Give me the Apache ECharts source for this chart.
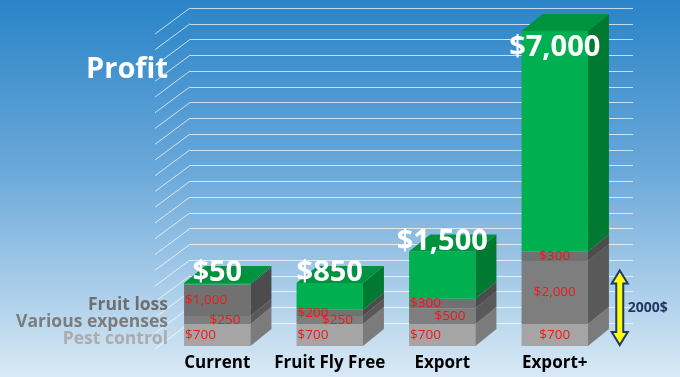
<!DOCTYPE html>
<html>
<head>
<meta charset="utf-8">
<script src="https://cdn.jsdelivr.net/npm/echarts@6/dist/echarts.min.js"></script>
<style>
  html, body { margin: 0; padding: 0; }
  #main { width: 680px; height: 377px; }
</style>
</head>
<body>
<div id="main"></div>
<script>
// values
const categories = ['Current', 'Fruit Fly Free', 'Export', 'Export+'];
const pestControl = [700, 700, 700, 700];
const variousExpenses = [250, 250, 500, 2000];
const fruitLoss = [1000, 200, 300, 300];
const profit = [50, 850, 1500, 7000];
const wallTicks = [0, 500, 1000, 1500, 2000, 2500, 3000, 3500, 4000, 4500, 5000,
  5500, 6000, 6500, 7000, 7500, 8000, 8500, 9000, 9500, 10000];
const legendNames = ['Fruit loss', 'Various expenses', 'Pest control'];
const arrowSpan = [0, 2400];
const arrowText = '2000$';

// fake 3d depth of the boxes
const DX = 21, DY = -17;
const segColors = [
  { front: '#a5a5a5', side: '#7b7b7b' },
  { front: '#7e7e7e', side: '#595959' },
  { front: '#717171', side: '#4c4c4c' },
  { front: '#00b050', side: '#007a33', top: '#00933e' }
];

function money(v) {
  return '$' + String(v).replace(/\B(?=(\d{3})+(?!\d))/g, ',');
}

function renderBar(params, api) {
  const i = api.value(0);
  const vals = [api.value(1), api.value(2), api.value(3), api.value(4)];
  const w = api.size([1, 0])[0] * 0.59;
  const cx = api.coord([i, 0])[0];
  const xl = cx - w / 2, xr = cx + w / 2;
  const shapes = [], labels = [];
  let base = 0;
  vals.forEach(function (v, k) {
    const y0 = api.coord([i, base])[1];
    const y1 = api.coord([i, base + v])[1];
    const c = segColors[k];
    shapes.push({ type: 'rect', shape: { x: xl, y: y1, width: w, height: y0 - y1 }, style: { fill: c.front } });
    shapes.push({
      type: 'polygon',
      shape: { points: [[xr, y1], [xr + DX, y1 + DY], [xr + DX, y0 + DY], [xr, y0]] },
      style: { fill: c.side }
    });
    if (k === 3) {
      shapes.push({
        type: 'polygon',
        shape: { points: [[xl, y1], [xr, y1], [xr + DX, y1 + DY], [xl + DX, y1 + DY]] },
        style: { fill: c.top }
      });
      const inside = (y0 - y1) > 100;
      labels.push({
        type: 'text', x: cx, y: inside ? y1 + 17 : y1 - 10,
        style: {
          text: money(v), fill: '#fff', font: 'bold 29px "Open Sans"',
          textAlign: 'center', textVerticalAlign: 'middle',
          shadowBlur: 4, shadowColor: 'rgba(0,0,0,0.55)', shadowOffsetX: 1, shadowOffsetY: 1
        }
      });
    } else {
      let tx, align;
      if (i === categories.length - 1) { tx = cx; align = 'center'; }
      else if (k === 1) { tx = xr - 10; align = 'right'; }
      else { tx = xl + 1; align = 'left'; }
      labels.push({
        type: 'text', x: tx, y: (y0 + y1) / 2,
        style: {
          text: money(v), fill: '#f01818', font: '13.5px "Open Sans"',
          textAlign: align, textVerticalAlign: 'middle'
        }
      });
    }
    base += v;
  });
  return { type: 'group', children: shapes.concat(labels) };
}

function renderWall(params, api) {
  const p = api.coord([0, api.value(1)]);
  return {
    type: 'line',
    shape: { x1: p[0], y1: p[1], x2: p[0] - 35, y2: p[1] + 26 },
    style: { stroke: 'rgba(255,255,255,0.7)', lineWidth: 1 }
  };
}

let myChart = echarts.init(document.getElementById('main'));

const legendColors = ['#6e6e6e', '#7c7c7c', '#acacac'];
const textFont = '"Open Sans", "Noto Sans", sans-serif';

myChart.setOption({
  backgroundColor: {
    type: 'linear', x: 0, y: 0, x2: 0, y2: 1,
    colorStops: [
      { offset: 0, color: '#2a84c7' },
      { offset: 0.45, color: '#6aa8da' },
      { offset: 1, color: '#d9e9f5' }
    ]
  },
  animation: false,
  grid: [
    { left: 161, right: 69, top: 31, bottom: 31 },
    { left: 190, right: 47, top: 8, bottom: 54 }
  ],
  xAxis: [
    {
      gridIndex: 0, type: 'category', data: categories,
      axisLine: { show: false }, axisTick: { show: false },
      axisLabel: { interval: 0, fontSize: 17, fontWeight: 'bold', color: '#000', fontFamily: textFont, margin: 9 }
    },
    { gridIndex: 1, type: 'value', min: 0, max: 1, show: false }
  ],
  yAxis: [
    { gridIndex: 0, type: 'value', min: 0, max: 10000, show: false },
    {
      gridIndex: 1, type: 'value', min: 0, max: 10000, interval: 500,
      axisLine: { show: false }, axisTick: { show: false }, axisLabel: { show: false },
      splitLine: { lineStyle: { color: 'rgba(255,255,255,0.7)', width: 1 } }
    }
  ],
  series: [
    {
      type: 'custom', xAxisIndex: 1, yAxisIndex: 1, z: 1,
      renderItem: renderWall,
      encode: { x: 0, y: 1 },
      data: wallTicks.map(function (v) { return [0, v]; })
    },
    {
      type: 'custom', xAxisIndex: 0, yAxisIndex: 0, z: 3,
      renderItem: renderBar,
      encode: { x: 0, y: 1 },
      data: categories.map(function (c, i) {
        return [i, pestControl[i], variousExpenses[i], fruitLoss[i], profit[i]];
      })
    }
  ]
});

// annotations: series names on the left and the double arrow
const yTop = myChart.convertToPixel({ yAxisIndex: 0 }, arrowSpan[1]);
const yBot = myChart.convertToPixel({ yAxisIndex: 0 }, arrowSpan[0]) - 1;
const ax = myChart.convertToPixel({ xAxisIndex: 0 }, categories.length - 1) + 65;
const hw = 8, sw = 3.5, hh = 13;

const graphics = [
  {
    type: 'text', x: 168, y: 70, z: 10,
    style: { text: 'Profit', fill: '#fff', font: 'bold 29px ' + textFont, textAlign: 'right', textVerticalAlign: 'middle' }
  },
  {
    type: 'polygon', z: 10,
    shape: {
      points: [[ax, yTop], [ax + hw, yTop + hh], [ax + sw, yTop + hh], [ax + sw, yBot - hh],
        [ax + hw, yBot - hh], [ax, yBot], [ax - hw, yBot - hh], [ax - sw, yBot - hh],
        [ax - sw, yTop + hh], [ax - hw, yTop + hh]]
    },
    style: { fill: '#ffff00', stroke: '#1f3a6e', lineWidth: 2 }
  },
  {
    type: 'text', x: ax + 8, y: (yTop + yBot) / 2, z: 10,
    style: { text: arrowText, fill: '#1f3864', font: 'bold 14px ' + textFont, textAlign: 'left', textVerticalAlign: 'middle' }
  }
];
legendNames.forEach(function (name, k) {
  graphics.push({
    type: 'text', x: 168, y: 305 + k * 17, z: 10,
    style: { text: name, fill: legendColors[k], font: 'bold 17.5px ' + textFont, textAlign: 'right', textVerticalAlign: 'middle' }
  });
});
myChart.setOption({ graphic: graphics });

window.onresize = function () {
  myChart.resize();
}
</script>
</body>
</html>
